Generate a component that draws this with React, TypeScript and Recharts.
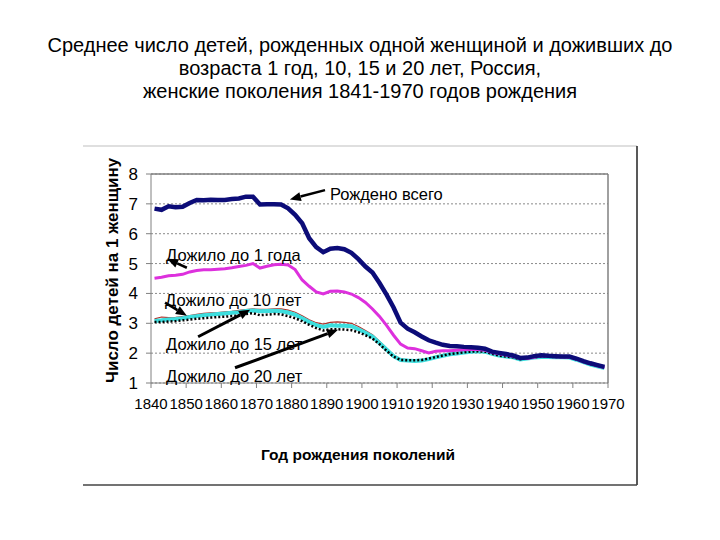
import React from 'react';
import {
    LineChart,
    Line,
    XAxis,
    YAxis,
    CartesianGrid,
    ReferenceLine,
    ReferenceDot
} from 'recharts';

// birth cohort years (every second year)
const years = [
    1841, 1843, 1845, 1847, 1849, 1851, 1853, 1855, 1857, 1859,
    1861, 1863, 1865, 1867, 1869, 1871, 1873, 1875, 1877, 1879,
    1881, 1883, 1885, 1887, 1889, 1891, 1893, 1895, 1897, 1899,
    1901, 1903, 1905, 1907, 1909, 1911, 1913, 1915, 1917, 1919,
    1921, 1923, 1925, 1927, 1929, 1931, 1933, 1935, 1937, 1939,
    1941, 1943, 1945, 1947, 1949, 1951, 1953, 1955, 1957, 1959,
    1961, 1963, 1965, 1967, 1969
];

// Рождено всего
const bornTotal = [
    6.84, 6.80, 6.92, 6.89, 6.90, 7.03, 7.13, 7.12, 7.14, 7.13,
    7.13, 7.16, 7.18, 7.24, 7.24, 6.98, 6.99, 6.99, 6.98, 6.85,
    6.63, 6.35, 5.85, 5.55, 5.38, 5.50, 5.52, 5.48, 5.36, 5.15,
    4.90, 4.70, 4.35, 3.96, 3.53, 3.02, 2.82, 2.70, 2.56, 2.43,
    2.35, 2.28, 2.24, 2.23, 2.21, 2.20, 2.18, 2.15, 2.05, 2.01,
    1.97, 1.92, 1.84, 1.85, 1.90, 1.93, 1.91, 1.90, 1.89, 1.89,
    1.82, 1.73, 1.66, 1.60, 1.54
];

// Дожило до 1 года
const survived1 = [
    4.51, 4.54, 4.59, 4.61, 4.64, 4.72, 4.77, 4.79, 4.79, 4.81,
    4.83, 4.86, 4.90, 4.94, 5.00, 4.85, 4.91, 4.96, 4.98, 4.95,
    4.80, 4.45, 4.24, 4.05, 3.98, 4.07, 4.08, 4.05, 3.98, 3.86,
    3.70, 3.48, 3.23, 2.93, 2.60, 2.30, 2.17, 2.15, 2.08, 2.01,
    2.06, 2.08, 2.08, 2.10, 2.11, 2.12, 2.12, 2.10, 2.02, 1.98,
    1.94, 1.89, 1.82, 1.82, 1.86, 1.91, 1.89, 1.88, 1.87, 1.86,
    1.80, 1.71, 1.64, 1.58, 1.52
];

// Дожило до 10 лет
const survived10 = [
    3.15, 3.21, 3.19, 3.20, 3.22, 3.26, 3.30, 3.33, 3.35, 3.36,
    3.38, 3.40, 3.43, 3.46, 3.48, 3.47, 3.47, 3.48, 3.48, 3.44,
    3.37, 3.25, 3.12, 3.02, 2.97, 3.03, 3.05, 3.03, 3.00, 2.89,
    2.76, 2.62, 2.40, 2.17, 1.94, 1.80, 1.78, 1.77, 1.78, 1.83,
    1.88, 1.94, 1.99, 2.02, 2.05, 2.08, 2.09, 2.08, 2.01, 1.95,
    1.92, 1.88, 1.82, 1.84, 1.87, 1.89, 1.88, 1.88, 1.87, 1.86,
    1.80, 1.72, 1.64, 1.58, 1.52
];

// Дожило до 15 лет
const survived15 = [
    3.08, 3.10, 3.13, 3.14, 3.17, 3.21, 3.24, 3.27, 3.29, 3.31,
    3.33, 3.35, 3.37, 3.41, 3.43, 3.40, 3.41, 3.42, 3.40, 3.36,
    3.29, 3.17, 3.04, 2.94, 2.88, 2.93, 2.92, 2.92, 2.90, 2.80,
    2.68, 2.55, 2.34, 2.12, 1.90, 1.77, 1.75, 1.74, 1.75, 1.80,
    1.86, 1.91, 1.96, 1.99, 2.02, 2.05, 2.06, 2.05, 1.98, 1.92,
    1.89, 1.86, 1.79, 1.82, 1.85, 1.87, 1.87, 1.86, 1.86, 1.85,
    1.78, 1.70, 1.62, 1.56, 1.50
];

// Дожило до 20 лет
const survived20 = [
    3.04, 3.04, 3.06, 3.07, 3.10, 3.12, 3.15, 3.17, 3.19, 3.21,
    3.22, 3.24, 3.26, 3.31, 3.34, 3.27, 3.29, 3.31, 3.30, 3.24,
    3.17, 3.07, 2.95, 2.84, 2.76, 2.80, 2.80, 2.79, 2.77, 2.70,
    2.60, 2.49, 2.30, 2.08, 1.88, 1.77, 1.76, 1.76, 1.77, 1.82,
    1.87, 1.92, 1.97, 2.00, 2.03, 2.05, 2.06, 2.05, 1.98, 1.92,
    1.89, 1.86, 1.80, 1.83, 1.86, 1.88, 1.88, 1.87, 1.87, 1.86,
    1.79, 1.71, 1.63, 1.57, 1.51
];

const xTicks = [1840, 1850, 1860, 1870, 1880, 1890, 1900, 1910, 1920, 1930, 1940, 1950, 1960, 1970];
const yTicks = [1, 2, 3, 4, 5, 6, 7, 8];

// annotation texts, placed in data coordinates
const labelTexts = ['Рождено всего', 'Дожило до 1 года', 'Дожило до 10 лет', 'Дожило до 15 лет', 'Дожило до 20 лет'];
const labelYears = [1890.9, 1844.3, 1844.0, 1844.3, 1844.3];
const labelValues = [7.32, 5.27, 3.76, 2.31, 1.22];

// arrows: tail -> head
const arrowFrom = [[1889.5, 7.46], [1850.2, 4.86], [1844.0, 3.69], [1853.4, 2.55], [1863.9, 1.51]];
const arrowTo = [[1879.5, 7.15], [1844.6, 5.16], [1850.2, 3.25], [1868.2, 3.45], [1893.2, 2.78]];
const arrowWidths = [2.5, 2.5, 2.5, 3, 3];

const data = years.map((year, i) => ({
    year,
    born: bornTotal[i],
    s1: survived1[i],
    s10: survived10[i],
    s15: survived15[i],
    s20: survived20[i]
}));

const FONT = '"Liberation Sans", Arial, sans-serif';

const makeArrow = (w: number) => (props: any) => {
    const { x1, y1, x2, y2 } = props;
    const ang = Math.atan2(y2 - y1, x2 - x1);
    const len = 11;
    const half = 4.5;
    const bx = x2 - len * Math.cos(ang);
    const by = y2 - len * Math.sin(ang);
    const px = -Math.sin(ang) * half;
    const py = Math.cos(ang) * half;
    return (
        <g>
            <line x1={x1} y1={y1} x2={bx} y2={by} stroke="#000" strokeWidth={w} />
            <polygon points={`${x2},${y2} ${bx + px},${by + py} ${bx - px},${by - py}`} fill="#000" />
        </g>
    );
};

const makeLabel = (text: string) => (props: any) => (
    <text x={props.cx} y={props.cy} dy="0.35em" fontSize={16.5} fill="#000" fontFamily={FONT}>
        {text}
    </text>
);

export default function App() {
    return (
        <div style={{ position: 'absolute', left: 0, top: 0, width: 720, height: 540, background: '#fff', fontFamily: FONT }}>
            <div style={{ position: 'absolute', left: 0, top: 34, width: 720, textAlign: 'center', fontSize: 20, lineHeight: '23px', color: '#000' }}>
                Среднее число детей, рожденных одной женщиной и доживших до<br />
                возраста 1 год, 10, 15 и 20 лет, Россия,<br />
                женские поколения 1841-1970 годов рождения
            </div>
            <div style={{ position: 'absolute', left: 0, top: 0 }}>
                <LineChart width={720} height={540} data={data} margin={{ top: 174, right: 112, bottom: 127, left: 91 }}>
                    <CartesianGrid vertical={false} stroke="#8a8a8a" strokeDasharray="2 2" />
                    <XAxis
                        dataKey="year"
                        type="number"
                        domain={[1840, 1970]}
                        ticks={xTicks}
                        height={30}
                        stroke="#808080"
                        tickSize={5}
                        tickMargin={10}
                        tick={{ fill: '#000', fontSize: 15, fontFamily: FONT }}
                        interval={0}
                    />
                    <YAxis
                        domain={[1, 8]}
                        ticks={yTicks}
                        width={60}
                        stroke="#808080"
                        tickSize={5}
                        tickMargin={8}
                        tick={{ fill: '#000', fontSize: 17, fontFamily: FONT }}
                        interval={0}
                    />
                    <ReferenceLine y={8} stroke="#808080" strokeWidth={1.5} />
                    <ReferenceLine x={1970} stroke="#808080" strokeWidth={1.5} />
                    <Line dataKey="s10" stroke="#b0302a" strokeWidth={1.2} dot={false} activeDot={false} isAnimationActive={false} />
                    <Line dataKey="s15" stroke="#3ddede" strokeWidth={4} dot={false} activeDot={false} isAnimationActive={false} />
                    <Line dataKey="s20" stroke="#000" strokeWidth={2.5} strokeDasharray="2 2" dot={false} activeDot={false} isAnimationActive={false} />
                    <Line dataKey="s1" stroke="#dd30dd" strokeWidth={3} dot={false} activeDot={false} isAnimationActive={false} />
                    <Line dataKey="born" stroke="#0c0c78" strokeWidth={4.5} dot={false} activeDot={false} isAnimationActive={false} />
                    {arrowFrom.map((from, i) => (
                        <ReferenceLine
                            key={'a' + i}
                            segment={[{ x: from[0], y: from[1] }, { x: arrowTo[i][0], y: arrowTo[i][1] }]}
                            shape={makeArrow(arrowWidths[i])}
                        />
                    ))}
                    {labelTexts.map((t, i) => (
                        <ReferenceDot key={'l' + i} x={labelYears[i]} y={labelValues[i]} r={0} shape={makeLabel(t)} />
                    ))}
                </LineChart>
            </div>
            <svg width={720} height={540} style={{ position: 'absolute', left: 0, top: 0, pointerEvents: 'none' }}>
                <line x1={83} y1={146} x2={637} y2={146} stroke="#d4d4d4" strokeWidth={1.5} />
                <line x1={637} y1={146} x2={637} y2={485} stroke="#222" strokeWidth={1.5} />
                <line x1={83} y1={485} x2={637} y2={485} stroke="#444" strokeWidth={1.5} />
                <text x={112} y={383} transform="rotate(-90 112 383)" dy="0.35em" fontSize={17} fontWeight="bold" fontFamily={FONT} fill="#000">
                    Число детей на 1 женщину
                </text>
                <text x={358} y={455} textAnchor="middle" dy="0.35em" fontSize={15.5} fontWeight="bold" fontFamily={FONT} fill="#000">
                    Год рождения поколений
                </text>
            </svg>
        </div>
    );
}
